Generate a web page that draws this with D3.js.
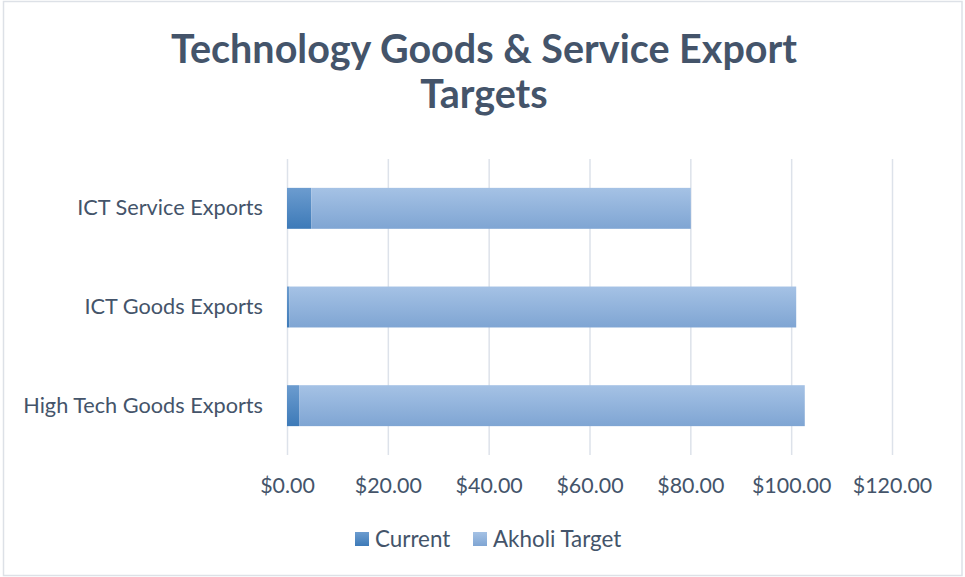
<!DOCTYPE html>
<html>
<head>
<meta charset="utf-8">
<script src="https://cdn.jsdelivr.net/npm/d3@7"></script>
<style>
  body { margin: 0; background: #fff; }
  svg { display: block; }
  text { font-family: Lato, "Open Sans", sans-serif; }
</style>
</head>
<body>
<svg id="chart" width="965" height="577"></svg>
<script>
// Export categories, listed bottom to top
const categories = ["High Tech Goods Exports", "ICT Goods Exports", "ICT Service Exports"];
// Values in billions of dollars
const currentValues = [2.4, 0.5, 4.8];
const targetValues = [100.3, 100.5, 75.3];
const seriesNames = ["Current", "Akholi Target"];
const tickValues = [0, 20, 40, 60, 80, 100, 120];
const titleLines = ["Technology Goods & Service Export", "Targets"];

const W = 965, H = 577;
const textColor = "#44546A";
const plot = { left: 287, right: 892, top: 159, bottom: 455 };

const svg = d3.select("#chart");

// Gradient fills for the two series
const defs = svg.append("defs");
const gradStops = [
  ["gradCurrent", "#6c9ccf", "#3d7ab8"],
  ["gradTarget", "#a5c2e5", "#7fa5d3"]
];
gradStops.forEach(([id, top, bottom]) => {
  const g = defs.append("linearGradient").attr("id", id)
    .attr("x1", 0).attr("y1", 0).attr("x2", 0).attr("y2", 1);
  g.append("stop").attr("offset", "0%").attr("stop-color", top);
  g.append("stop").attr("offset", "100%").attr("stop-color", bottom);
});
const fills = ["url(#gradCurrent)", "url(#gradTarget)"];

// Chart frame
svg.append("rect")
  .attr("x", 3.5).attr("y", 1.5).attr("width", W - 6.5).attr("height", H - 3)
  .attr("fill", "#fff").attr("stroke", "#dde1e7").attr("stroke-width", 1.5);

// Title
svg.append("text")
  .attr("text-anchor", "middle")
  .attr("fill", textColor)
  .attr("font-weight", 700)
  .attr("font-size", 39.5)
  .selectAll("tspan")
  .data(titleLines)
  .join("tspan")
  .attr("x", 484)
  .attr("y", (d, i) => 63 + i * 45)
  .text(d => d);

// Scales
const x = d3.scaleLinear().domain([0, 120]).range([plot.left, plot.right]);
const y = d3.scaleBand()
  .domain(categories.slice().reverse())
  .range([plot.top, plot.bottom])
  .paddingInner(0.585)
  .paddingOuter(0.2925);

// Vertical gridlines
const grid = svg.append("g")
  .attr("transform", `translate(0,${plot.bottom})`)
  .call(d3.axisBottom(x).tickValues(tickValues).tickSize(-(plot.bottom - plot.top)).tickFormat(""));
grid.select(".domain").remove();
grid.selectAll("line").attr("stroke", "#dde2ea").attr("stroke-width", 1.5);

// Stacked bars
const rows = categories.map((c, i) => ({ category: c, Current: currentValues[i], "Akholi Target": targetValues[i] }));
const stacked = d3.stack().keys(seriesNames)(rows);

svg.append("g")
  .selectAll("g")
  .data(stacked)
  .join("g")
  .attr("fill", (d, i) => fills[i])
  .selectAll("rect")
  .data(d => d)
  .join("rect")
  .attr("x", d => x(d[0]))
  .attr("y", d => y(d.data.category))
  .attr("width", d => x(d[1]) - x(d[0]))
  .attr("height", y.bandwidth());

// X axis labels
const xAxis = svg.append("g")
  .attr("transform", `translate(0,${plot.bottom})`)
  .call(d3.axisBottom(x).tickValues(tickValues).tickSize(0).tickPadding(23)
    .tickFormat(d => "$" + d.toFixed(2)));
xAxis.select(".domain").remove();
xAxis.selectAll("text").attr("fill", textColor).attr("font-size", 21.4).attr("font-family", "Lato, sans-serif");

// Category labels
const yAxis = svg.append("g")
  .attr("transform", `translate(${plot.left},0)`)
  .call(d3.axisLeft(y).tickSize(0).tickPadding(24));
yAxis.select(".domain").remove();
yAxis.selectAll("text").attr("fill", textColor).attr("font-size", 21.7).attr("font-family", "Lato, sans-serif");

// Legend
const legendItems = [
  { name: seriesNames[0], fill: fills[0], x: 355 },
  { name: seriesNames[1], fill: fills[1], x: 473 }
];
const legend = svg.append("g").selectAll("g").data(legendItems).join("g")
  .attr("transform", d => `translate(${d.x},532)`);
legend.append("rect").attr("width", 14).attr("height", 14).attr("fill", d => d.fill);
legend.append("text").attr("x", 20).attr("y", 14.5)
  .attr("fill", textColor).attr("font-size", 22.4).text(d => d.name);
</script>
</body>
</html>
